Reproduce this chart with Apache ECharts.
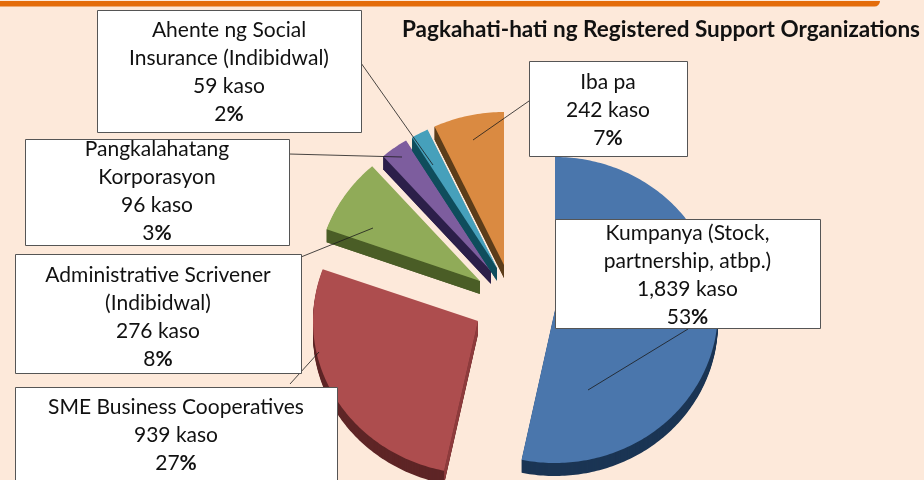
<!DOCTYPE html>
<html>
<head>
<meta charset="utf-8">
<style>html,body{margin:0;padding:0;background:#fde9da}#c{width:924px;height:480px}</style>
<script src="https://cdn.jsdelivr.net/npm/echarts@6/dist/echarts.min.js"></script>
</head>
<body>
<div id="c"></div>
<script>
const chartTitle = 'Pagkahati-hati ng Registered Support Organizations';
const categories = ['Kumpanya (Stock,\npartnership, atbp.)', 'SME Business Cooperatives', 'Administrative Scrivener\n(Indibidwal)', 'Pangkalahatang\nKorporasyon', 'Ahente ng Social\nInsurance (Indibidwal)', 'Iba pa'];
const cases = [1839, 939, 276, 96, 59, 242];
const caseLabels = ['1,839', '939', '276', '96', '59', '242'];
const percents = [53, 27, 8, 3, 2, 7];

const topColors = ['#4a76ac', '#ad4d4e', '#90ab58', '#7d5d9e', '#46a0bb', '#da8a41'];
const wallColors = ['#1b3554', '#5e2526', '#4a5d26', '#2c1f49', '#0f4d5c', '#5c3d1a'];
const edgeColors = ['#1b3554', '#8e3b3c', '#4a5d26', '#2c1f49', '#0f4d5c', '#5c3d1a'];
const RY = 153, DEPTH = 13;
const radiiX = [163, 165, 163, 163, 163, 163];
const apexes = [[555, 310], [478, 321], [480, 281], [491, 271], [497, 268], [504, 265]];
const boxes = [[555, 219, 265, 109], [15, 387, 322, 96], [15, 254, 286, 119], [25, 139, 264, 106], [97, 10, 264, 122], [529, 61, 158, 95]];
const textCenters = [275, 435, 317, 191, 72, 110];
const leaders = [[[688, 329], [588, 390]], [[290, 384], [319, 352]], [[301, 257], [373, 228]], [[289, 154], [402, 157]], [[361, 63], [433, 165]], [[529, 101], [473, 140]]];

const total = cases.reduce((a, b) => a + b, 0);
function slicePoints(i) {
  let s = 0;
  for (let k = 0; k < i; k++) s += cases[k];
  const a0 = s / total * 2 * Math.PI, a1 = (s + cases[i]) / total * 2 * Math.PI;
  const [ax, ay] = apexes[i];
  const pts = [[ax, ay]];
  const n = Math.max(6, Math.ceil((a1 - a0) * 60));
  for (let j = 0; j <= n; j++) {
    const t = a0 + (a1 - a0) * j / n;
    pts.push([ax + radiiX[i] * Math.sin(t), ay - RY * Math.cos(t)]);
  }
  return pts;
}
const chart = echarts.init(document.getElementById('c'), null, {renderer: 'canvas'});
chart.setOption({
  animation: false,
  backgroundColor: '#fde9da',
  title: {
    text: chartTitle, left: 397, top: 13,
    textStyle: {fontFamily: 'Lato', fontSize: 22.5, fontWeight: 'bold', color: '#111'}
  },
  graphic: [{
    type: 'rect', z: 1,
    shape: {x: -20, y: 1, width: 900, height: 5.5, r: [0, 0, 6, 0]},
    style: {fill: '#e46c0a'}
  }],
  series: [{
    type: 'custom', coordinateSystem: 'none', z: 2, silent: true,
    data: cases,
    renderItem(params) {
      const i = params.dataIndex, pts = slicePoints(i), children = [];
      for (let d = DEPTH; d >= 1; d--) {
        children.push({type: 'polygon', y: d, shape: {points: pts}, style: {fill: wallColors[i]}});
      }
      const a = pts[0], c = pts[1];
      children.push({type: 'polygon', shape: {points: [a, c, [c[0], c[1] + DEPTH], [a[0], a[1] + DEPTH]]}, style: {fill: edgeColors[i]}});
      children.push({type: 'polygon', shape: {points: pts}, style: {fill: topColors[i]}});
      return {type: 'group', children};
    }
  }, {
    type: 'custom', coordinateSystem: 'none', z: 3, silent: true,
    data: cases,
    renderItem(params) {
      const i = params.dataIndex;
      return {type: 'line', shape: {x1: leaders[i][0][0], y1: leaders[i][0][1], x2: leaders[i][1][0], y2: leaders[i][1][1]}, style: {stroke: '#1a1a1a', lineWidth: 0.8}};
    }
  }, {
    type: 'custom', coordinateSystem: 'none', z: 4, silent: true,
    data: cases,
    renderItem(params) {
      const i = params.dataIndex, b = boxes[i];
      return {type: 'group', children: [
        {type: 'rect', shape: {x: b[0] + .5, y: b[1] + .5, width: b[2], height: b[3]}, style: {fill: '#fff', stroke: '#555', lineWidth: 1}},
        {type: 'text', x: b[0] + b[2] / 2, y: textCenters[i], style: {
          text: categories[i] + '\n' + caseLabels[i] + ' kaso\n' + percents[i] + '{b|%}',
          rich: {b: {fontWeight: 'bold', fontFamily: 'Lato', fontSize: 21, fill: '#111', lineHeight: 28}},
          fontFamily: 'Lato', fontSize: 21, fill: '#111', lineHeight: 28,
          align: 'center', verticalAlign: 'middle'
        }}
      ]};
    }
  }]
});
</script>
</body>
</html>
